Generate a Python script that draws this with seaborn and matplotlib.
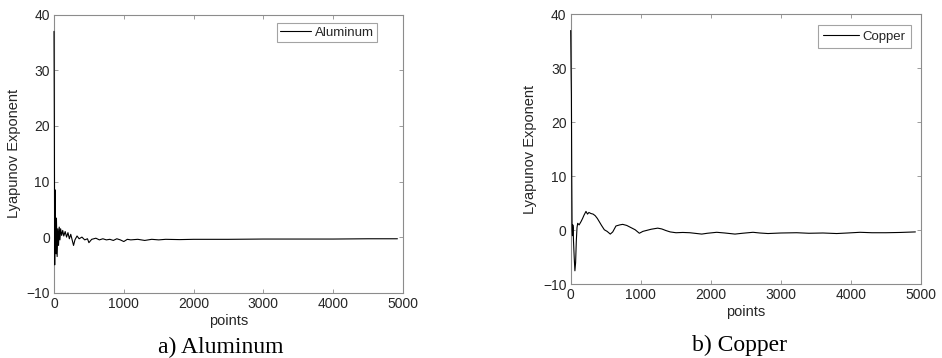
import matplotlib
matplotlib.use("Agg")
import matplotlib.pyplot as plt
import seaborn as sns
import pandas as pd

# ---- data ----
al_points = [0, 5, 10, 15, 20, 25, 30, 35, 45, 55, 65, 75, 85, 95, 110, 125, 140, 160,
             180, 200, 220, 240, 260, 280, 300, 330, 360, 400, 440, 480, 500, 540, 600,
             650, 700, 750, 800, 850, 900, 950, 1000, 1050, 1100, 1200, 1300, 1400, 1500,
             1600, 1800, 2000, 2500, 3000, 3500, 4000, 4500, 4920]
al_lyap = [37, 20, -5, 8.5, -2, 3.5, -3, 3.3, -3.5, 1.5, -1.5, 1.8, -0.5, 1.5, 0.3, 1.2, 0.2, 1.0,
           0.0, 0.8, -0.3, 0.5, -0.5, -1.5, -0.5, 0.2, -0.3, 0.0, -0.5, -0.3, -1.0, -0.4, -0.2,
           -0.5, -0.3, -0.5, -0.4, -0.6, -0.3, -0.5, -0.8, -0.4, -0.5, -0.4, -0.6, -0.4, -0.5,
           -0.4, -0.45, -0.4, -0.4, -0.35, -0.35, -0.35, -0.3, -0.3]

cu_points = [0, 5, 10, 15, 20, 25, 30, 35, 40, 50, 60, 70, 80, 90, 100, 120, 147, 170, 190,
             218, 240, 260, 290, 320, 350, 380, 408, 440, 480, 520, 565, 600, 646, 700, 742,
             800, 860, 920, 980, 1030, 1075, 1150, 1242, 1300, 1360, 1420, 1503, 1600, 1700,
             1870, 1950, 2084, 2200, 2345, 2450, 2602, 2700, 2816, 3000, 3226, 3400, 3600,
             3797, 3950, 4130, 4300, 4500, 4700, 4920]
cu_lyap = [37, 30, 25, 10, 0, -1, 1, 0.5, -2, -5, -7.5, -6, -2, 0.5, 1.3, 1.0, 1.6, 2.2, 2.8,
           3.5, 3.0, 3.3, 3.1, 3.0, 2.7, 2.2, 1.6, 0.9, 0.1, -0.2, -0.7, -0.3, 0.8, 1.0, 1.1,
           0.9, 0.5, 0.1, -0.55, -0.2, -0.05, 0.2, 0.4, 0.25, -0.05, -0.3, -0.45, -0.4, -0.45,
           -0.7, -0.55, -0.37, -0.5, -0.7, -0.55, -0.37, -0.5, -0.6, -0.5, -0.45, -0.55, -0.5,
           -0.6, -0.5, -0.37, -0.45, -0.45, -0.4, -0.3]

x_ticks = [0, 1000, 2000, 3000, 4000, 5000]
y_ticks = [-10, 0, 10, 20, 30, 40]
captions = ["a) Aluminum", "b) Copper"]
series_names = ["Aluminum", "Copper"]

sns.set_theme(style="white")
plt.rcParams["font.family"] = ["Liberation Sans", "DejaVu Sans"]

fig = plt.figure(figsize=(9.42, 3.58), dpi=100)
W, H = 942, 358

def px_axes(x0, x1, ytop, ybot):
    return fig.add_axes([x0 / W, 1 - ybot / H, (x1 - x0) / W, (ybot - ytop) / H])

ax1 = px_axes(54, 403, 14.7, 292.7)
ax2 = px_axes(570.7, 921, 14.3, 284.3)

frame_col = "#8c8c8c"
text_col = "#262626"

datasets = [(al_points, al_lyap), (cu_points, cu_lyap)]
legend_anchor = [(0.9255, 0.970), (0.9715, 0.960)]
legend_size = [9.5, 9.5]
legend_handle = [2.3, 2.7]
legend_pad = [0.25, 0.4]

for i, ax in enumerate([ax1, ax2]):
    xs, ys = datasets[i]
    df = pd.DataFrame({"points": xs, "lyap": ys})
    sns.lineplot(data=df, x="points", y="lyap", ax=ax, color="black", linewidth=0.8,
                 label=series_names[i], zorder=3, clip_on=False)
    ax.set_xlim(0, 5000)
    ax.set_ylim(-10, 40)
    ax.set_xticks(x_ticks)
    ax.set_yticks(y_ticks)
    ax.tick_params(direction="in", length=3, width=0.6, colors=frame_col,
                   labelcolor=text_col, labelsize=10, top=True, right=True,
                   bottom=True, left=True, pad=3)
    for s in ax.spines.values():
        s.set_color(frame_col)
        s.set_linewidth(0.8)
        s.set_zorder(1)
    ax.set_xlabel("points", fontsize=10.5, color=text_col, labelpad=2)
    ax.set_ylabel("Lyapunov Exponent", fontsize=10.5, color=text_col, labelpad=4)
    leg = ax.legend(loc="upper right", bbox_to_anchor=legend_anchor[i], frameon=True,
                    fancybox=False, edgecolor=frame_col, fontsize=legend_size[i],
                    handlelength=legend_handle[i], handletextpad=0.3,
                    borderpad=legend_pad[i], borderaxespad=0)
    leg.get_frame().set_linewidth(0.8)
    for t in leg.get_texts():
        t.set_color(text_col)

fig.text(221 / W, 1 - 347 / H, captions[0], ha="center", va="center",
         fontsize=17, family="Liberation Serif", color="black")
fig.text(739 / W, 1 - 345 / H, captions[1], ha="center", va="center",
         fontsize=17, family="Liberation Serif", color="black")

fig.savefig("out.png", dpi=100, facecolor="white")
